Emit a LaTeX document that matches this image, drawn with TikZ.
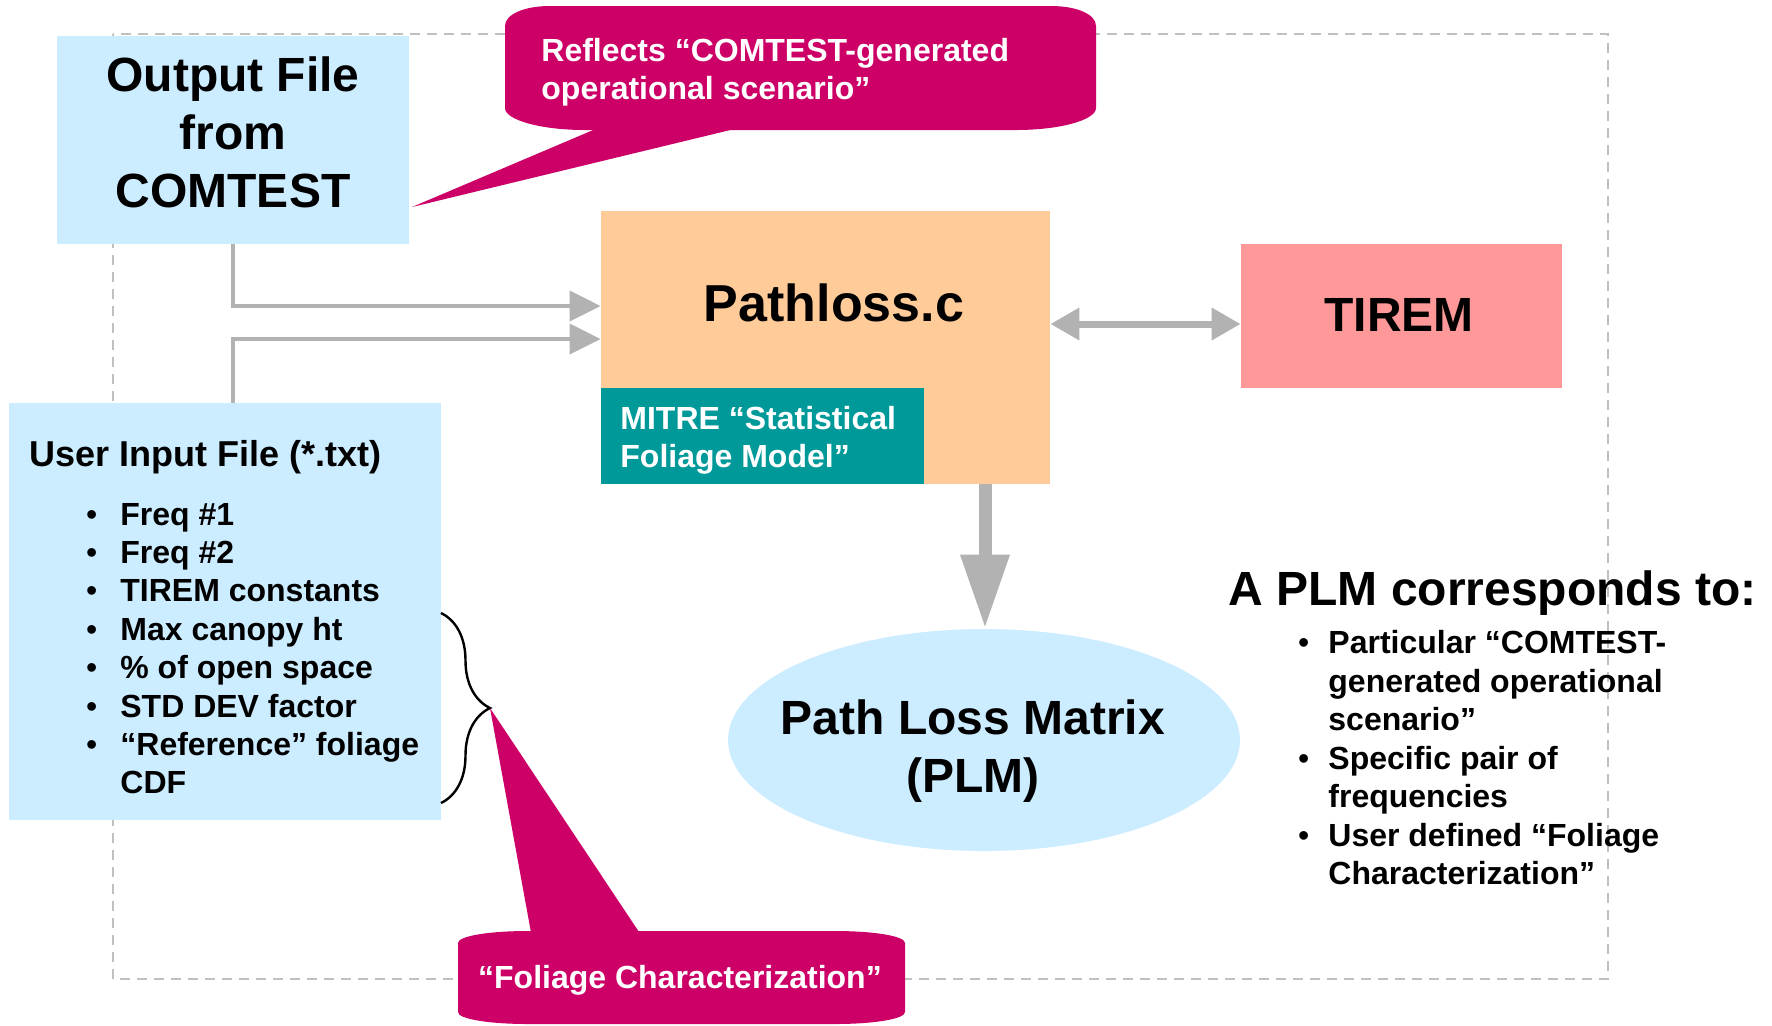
\documentclass[tikz,border=0pt]{standalone}
\usepackage{fontspec}
\setmainfont{Liberation Sans}
\usetikzlibrary{positioning,shapes.geometric,arrows.meta,calc,decorations.pathreplacing}
\definecolor{fileblue}{HTML}{CCECFF}
\definecolor{codeorange}{HTML}{FFCC99}
\definecolor{modelteal}{HTML}{009999}
\definecolor{tiremred}{HTML}{FF9999}
\definecolor{notemagenta}{HTML}{CC0066}
\definecolor{arrowgray}{HTML}{B2B2B2}
\definecolor{framegray}{HTML}{C0C0C0}
\newcommand{\bul}{\llap{{\mdseries\textbullet}\hspace{11.5pt}}}
\newcommand{\bulr}{\llap{{\mdseries\textbullet}\hspace{9.5pt}}}
\begin{document}
\begin{tikzpicture}[x=0.5pt,y=-0.5pt,
  filebox/.style={rectangle, fill=fileblue, inner sep=0pt},
  bigtext/.style={font=\bfseries\fontsize{24}{29}\selectfont, align=center, inner sep=0pt},
  listtext/.style={font=\bfseries\fontsize{16}{19.2}\selectfont, inner sep=0pt, anchor=base west},
  notetext/.style={font=\bfseries\fontsize{16}{19}\selectfont, text=white, inner sep=0pt},
  conn/.style={draw=arrowgray, line width=2pt, -{Triangle[width=15pt,length=15.5pt]}},
  twoway/.style={draw=arrowgray, line width=3.5pt, {Triangle[width=15.5pt,length=14.5pt]}-{Triangle[width=15.5pt,length=14.5pt]}},
  bigarrow/.style={draw=arrowgray, line width=6.5pt, -{Triangle[width=23pt,length=37pt]}}]
\useasboundingbox (0,0) rectangle (1772,1025);

% dashed frame
\draw[framegray, line width=1pt, dash pattern=on 5pt off 3.5pt] (113,34) rectangle (1608,979);

% boxes
\node[filebox, minimum width=176pt, minimum height=104pt] (outfile) at (233,140) {};
\node[bigtext] (outtext) at (233,132) {Output File\\from\\COMTEST};
\node[filebox, minimum width=216pt, minimum height=208.5pt] (userin) at (225,611.5) {};
\node[rectangle, fill=codeorange, minimum width=224.5pt, minimum height=136.5pt, inner sep=0pt] (pathloss) at (825.5,347.5) {};
\node[font=\bfseries\fontsize{26}{30}\selectfont, inner sep=0pt] (pathtext) at (834,303) {Pathloss.c};
\node[rectangle, fill=modelteal, minimum width=161.5pt, minimum height=48pt, inner sep=0pt] (mitre) at (762.5,436) {};
\node[notetext, align=left, anchor=west] (mitretext) at (620,440.5) {MITRE “Statistical\\Foliage Model”};
\node[rectangle, fill=tiremred, minimum width=160.5pt, minimum height=72pt, inner sep=0pt] (tirem) at (1401.5,316) {};
\node[bigtext] (tiremtext) at (1399,315) {TIREM};
\node[ellipse, fill=fileblue, minimum width=256pt, minimum height=111pt, inner sep=0pt] (plm) at (984,740) {};
\node[bigtext] (plmtext) at (973,751) {Path Loss Matrix\\(PLM)};

% connectors
\path[conn] (outfile.south) |- ($(pathloss.west)+(0,-41.5)$);
\path[conn] (outfile.south |- userin.north) |- ($(pathloss.west)+(0,-8.5)$);
\path[twoway] ($(pathloss.east)+(0,-23.5)$) coordinate (pe) -- (pe -| tirem.west);
\path[bigarrow] ($(pathloss.south)+(159.5,0)$) coordinate (ps) -- (ps |- plm.north);

% user input list
\node[font=\bfseries\fontsize{18}{21}\selectfont, inner sep=0pt, anchor=base west] (usertitle) at (29,466) {User Input File (*.txt)};
\foreach \txt [count=\i from 0] in {Freq \#1, Freq \#2, TIREM constants, Max canopy ht, \% of open space, STD DEV factor, “Reference” foliage}
  \node[listtext] (item\i) at (120,525+38.4*\i) {\bul\txt};
\node[listtext] (item7) at (120,793.8) {CDF};
\draw[line width=1.2pt, decorate, decoration={brace, amplitude=24.5pt}] (441,613) -- (441,803);
\coordinate (bracetip) at (490,708);

% PLM notes
\node[font=\bfseries\fontsize{24}{29}\selectfont, inner sep=0pt, anchor=base west] (plmtitle) at (1228,605) {A PLM corresponds to:};
\node[listtext] (plm0) at (1328,653.5) {\bulr Particular “COMTEST-};
\node[listtext] (plm1) at (1328,692) {generated operational};
\node[listtext] (plm2) at (1328,730.5) {scenario”};
\node[listtext] (plm3) at (1328,769) {\bulr Specific pair of};
\node[listtext] (plm4) at (1328,807.5) {frequencies};
\node[listtext] (plm5) at (1328,846) {\bulr User defined “Foliage};
\node[listtext] (plm6) at (1328,884.5) {Characterization”};

% callouts
\coordinate (reftip) at (412,207);
\fill[notemagenta] (505,26) .. controls (505,14) and (525,6) .. (550,6) -- (1051,6)
  .. controls (1076,6) and (1096,14) .. (1096,26) -- (1096,108)
  .. controls (1096,120) and (1060,130) .. (1016,130) -- (585,130)
  .. controls (541,130) and (505,120) .. (505,108) -- cycle;
\fill[notemagenta] (605,125) -- (reftip) -- (751,125) -- cycle;
\node[notetext, align=left, anchor=west] (reftext) at (541,72) {Reflects “COMTEST-generated\\operational scenario”};
\fill[notemagenta] (458,943) .. controls (458,936) and (489,931) .. (528,931) -- (835,931)
  .. controls (874,931) and (905,936) .. (905,943) -- (905,1012)
  .. controls (905,1019) and (874,1024) .. (835,1024) -- (528,1024)
  .. controls (489,1024) and (458,1019) .. (458,1012) -- cycle;
\fill[notemagenta] (532,938) -- (bracetip) -- (643,938) -- cycle;
\node[notetext] (foltext) at (680,980) {“Foliage Characterization”};
\end{tikzpicture}
\end{document}
